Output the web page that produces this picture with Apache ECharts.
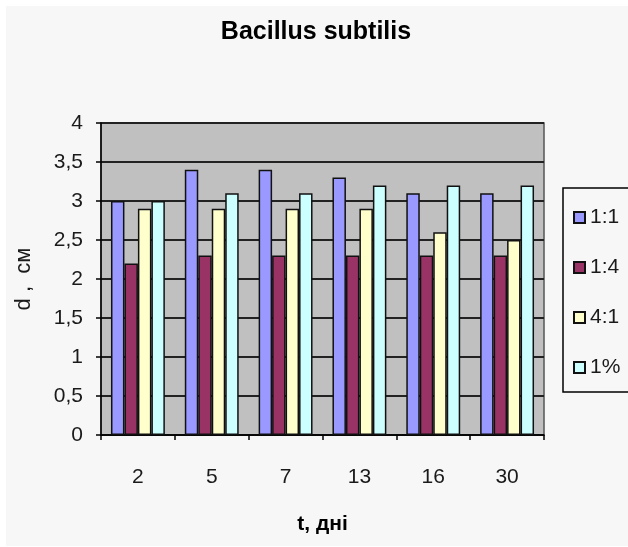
<!DOCTYPE html>
<html>
<head>
<meta charset="utf-8">
<script src="https://cdn.jsdelivr.net/npm/echarts@6/dist/echarts.min.js"></script>
<style>
  html, body { margin: 0; padding: 0; background: #ffffff; }
  #chart { width: 628px; height: 547px; }
</style>
</head>
<body>
<div id="chart"></div>
<script>
// Days of cultivation
const days = ['2', '5', '7', '13', '16', '30'];
// Zone diameter (cm) for each ratio
const ratio11 = [3.0, 3.4, 3.4, 3.3, 3.1, 3.1];
const ratio14 = [2.2, 2.3, 2.3, 2.3, 2.3, 2.3];
const ratio41 = [2.9, 2.9, 2.9, 2.9, 2.6, 2.5];
const pct1 = [3.0, 3.1, 3.1, 3.2, 3.2, 3.2];

const seriesNames = ['1:1', '1:4', '4:1', '1%'];
const seriesData = [ratio11, ratio14, ratio41, pct1];
const seriesColors = ['#9999ff', '#993366', '#ffffcc', '#ccffff'];

const FONT = '"Liberation Sans", Arial, sans-serif';

const chart = echarts.init(document.getElementById('chart'), null, { renderer: 'canvas' });

chart.setOption({
  backgroundColor: '#ffffff',
  animation: false,
  graphic: [{
    type: 'rect',
    z: -10,
    shape: { x: 6, y: 6, width: 622, height: 540 },
    style: { fill: '#f7f7f7' }
  }],
  title: {
    text: 'Bacillus subtilis',
    left: 311,
    textAlign: 'center',
    top: 15,
    textStyle: { fontFamily: FONT, fontSize: 25, fontWeight: 'bold', color: '#000' }
  },
  legend: {
    orient: 'vertical',
    left: 563,
    top: 188,
    data: seriesNames,
    icon: 'rect',
    itemWidth: 11,
    itemHeight: 11,
    itemGap: 29,
    padding: [19, 16, 14, 10],
    borderColor: '#000',
    borderWidth: 1.5,
    textStyle: { fontFamily: FONT, fontSize: 21, color: '#1a1a1a', lineHeight: 16 }
  },
  grid: {
    left: 101,
    right: 84,
    top: 123,
    bottom: 112,
    show: true,
    backgroundColor: '#c0c0c0',
    borderColor: '#555',
    borderWidth: 1.5
  },
  xAxis: {
    type: 'category',
    data: days,
    name: 't, дні',
    nameLocation: 'middle',
    nameGap: 79,
    nameTextStyle: { fontFamily: FONT, fontSize: 21, fontWeight: 'bold', color: '#000' },
    axisLine: { lineStyle: { color: '#000', width: 1.5 } },
    axisTick: { show: true, length: 5, lineStyle: { color: '#000', width: 1.5 } },
    axisLabel: { margin: 32, fontFamily: FONT, fontSize: 21, color: '#1a1a1a' },
    splitLine: { show: false }
  },
  yAxis: {
    type: 'value',
    min: 0,
    max: 4,
    interval: 0.5,
    name: 'd ,  см',
    nameLocation: 'middle',
    nameGap: 66,
    nameRotate: 90,
    nameTextStyle: { fontFamily: FONT, fontSize: 22, color: '#1a1a1a' },
    axisLine: { show: true, lineStyle: { color: '#000', width: 1.5 } },
    axisTick: { show: true, length: 5, lineStyle: { color: '#000', width: 1.5 } },
    axisLabel: {
      margin: 18,
      fontFamily: FONT,
      fontSize: 21,
      color: '#1a1a1a',
      formatter: v => String(v).replace('.', ',')
    },
    splitLine: { show: true, lineStyle: { color: '#222', width: 1.8 } }
  },
  series: seriesNames.map((name, i) => ({
    name: name,
    type: 'bar',
    data: seriesData[i],
    barGap: '0%',
    barCategoryGap: '27%',
    itemStyle: { color: seriesColors[i], borderColor: '#111', borderWidth: 1.5 }
  }))
});
</script>
</body>
</html>
